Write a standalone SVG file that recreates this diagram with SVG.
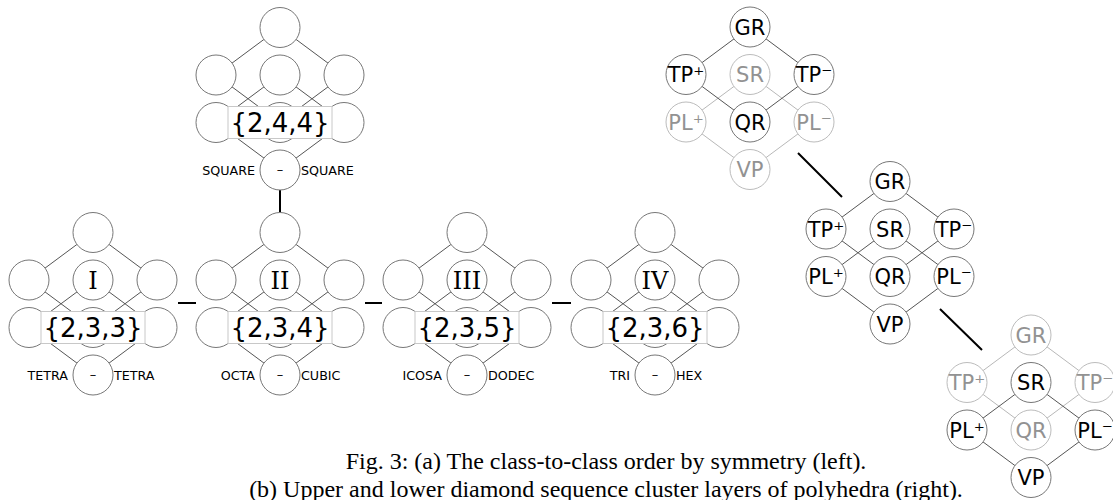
<svg xmlns="http://www.w3.org/2000/svg" width="1113" height="500" viewBox="0 0 1113 500">
<style>
.n{fill:#fff;stroke:#777;stroke-width:1}
.ng{fill:#fff;stroke:#bcbcbc;stroke-width:1}
.e{stroke:#555;stroke-width:1;fill:none}
.eg{stroke:#b8b8b8;stroke-width:1;fill:none}
.link{stroke:#000;stroke-width:2;fill:none}
.box{fill:#fff;stroke:#c8c8c8;stroke-width:1}
.sym{font-family:"DejaVu Sans",Verdana,sans-serif;font-size:26px;fill:#000;text-anchor:middle}
.rom{font-family:"DejaVu Serif",Georgia,serif;font-size:24px;fill:#000;text-anchor:middle}
.lab{font-family:"DejaVu Sans",Verdana,sans-serif;font-size:12.7px;fill:#000}
.l{text-anchor:end}
.dash{font-family:"DejaVu Sans",Verdana,sans-serif;font-size:13px;fill:#000;text-anchor:middle}
.t{font-family:"DejaVu Sans",Verdana,sans-serif;font-size:21px;fill:#000;text-anchor:middle}
.tg{font-family:"DejaVu Sans",Verdana,sans-serif;font-size:21px;fill:#929292;text-anchor:middle}
.cap{font-family:"Liberation Serif","Times New Roman",serif;font-size:24px;fill:#000;text-anchor:middle}
</style>
<defs>
  <!-- eight-position lattice: top, middle row, bottom row, base -->
  <g id="lattice">
    <path class="e" d="M0,0L-64,47.5M0,0L64,47.5M-64,47.5L0,95M0,47.5L-64,95M0,47.5L64,95M64,47.5L0,95M-64,95L0,142.5M64,95L0,142.5"/>
    <circle class="n" cx="0" cy="0" r="20"/>
    <circle class="n" cx="-64" cy="47.5" r="20"/>
    <circle class="n" cx="0" cy="47.5" r="20"/>
    <circle class="n" cx="64" cy="47.5" r="20"/>
    <circle class="n" cx="-64" cy="95" r="20"/>
    <circle class="n" cx="0" cy="95" r="20"/>
    <circle class="n" cx="64" cy="95" r="20"/>
    <circle class="n" cx="0" cy="142.5" r="20"/>
    <rect class="box" x="-52" y="79" width="104" height="32"/>
    <text class="dash" x="0" y="146.5">–</text>
  </g>
</defs>

<rect width="1113" height="500" fill="#fff"/>

<!-- connectors -->
<g id="connectors">
  <path class="link" d="M280,190V212"/>
  <path class="link" d="M178,303H196M365,303H382M552,303H571"/>
  <path class="link" d="M798,153L842,197M940,309L982,350"/>
</g>

<!-- left: class lattices -->
<g id="cluster-244" transform="translate(280,27.5)">
  <use href="#lattice"/>
  <text class="sym" y="104">{2,4,4}</text>
  <text class="lab l" x="-25" y="147">SQUARE</text>
  <text class="lab" x="21" y="147">SQUARE</text>
</g>
<g id="cluster-I" transform="translate(93,232.5)">
  <use href="#lattice"/>
  <text class="rom" y="56">I</text>
  <text class="sym" y="104">{2,3,3}</text>
  <text class="lab l" x="-25" y="147">TETRA</text>
  <text class="lab" x="21" y="147">TETRA</text>
</g>
<g id="cluster-II" transform="translate(280,232.5)">
  <use href="#lattice"/>
  <text class="rom" y="56">II</text>
  <text class="sym" y="104">{2,3,4}</text>
  <text class="lab l" x="-25" y="147">OCTA</text>
  <text class="lab" x="21" y="147">CUBIC</text>
</g>
<g id="cluster-III" transform="translate(467,232.5)">
  <use href="#lattice"/>
  <text class="rom" y="56">III</text>
  <text class="sym" y="104">{2,3,5}</text>
  <text class="lab l" x="-25" y="147">ICOSA</text>
  <text class="lab" x="21" y="147">DODEC</text>
</g>
<g id="cluster-IV" transform="translate(655,232.5)">
  <use href="#lattice"/>
  <text class="rom" y="56">IV</text>
  <text class="sym" y="104">{2,3,6}</text>
  <text class="lab l" x="-25" y="147">TRI</text>
  <text class="lab" x="21" y="147">HEX</text>
</g>

<!-- right: diamond layers -->
<g id="diamond-upper" transform="translate(750,27)">
  <g id="diamond-upper-edges">
    <path class="eg" d="M0,47.5L-64,95M0,47.5L64,95M-64,95L0,142.5M64,95L0,142.5"/>
    <path class="e" d="M0,0L-64,47.5M0,0L64,47.5M-64,47.5L0,95M64,47.5L0,95"/>
  </g>
  <g id="u-GR"><circle class="n" r="20"/><text class="t" y="7.5">GR</text></g>
  <g id="u-TPp"><circle class="n" cx="-64" cy="47.5" r="20"/><text class="t" x="-64" y="55">TP⁺</text></g>
  <g id="u-SR"><circle class="ng" cx="0" cy="47.5" r="20"/><text class="tg" x="0" y="55">SR</text></g>
  <g id="u-TPm"><circle class="n" cx="64" cy="47.5" r="20"/><text class="t" x="64" y="55">TP⁻</text></g>
  <g id="u-PLp"><circle class="ng" cx="-64" cy="95" r="20"/><text class="tg" x="-64" y="102.5">PL⁺</text></g>
  <g id="u-QR"><circle class="n" cx="0" cy="95" r="20"/><text class="t" x="0" y="102.5">QR</text></g>
  <g id="u-PLm"><circle class="ng" cx="64" cy="95" r="20"/><text class="tg" x="64" y="102.5">PL⁻</text></g>
  <g id="u-VP"><circle class="ng" cx="0" cy="142.5" r="20"/><text class="tg" x="0" y="150">VP</text></g>
</g>

<g id="diamond-full" transform="translate(890,181.5)">
  <g id="diamond-full-edges">
    <path class="e" d="M0,0L-64,47.5M0,0L64,47.5M-64,47.5L0,95M64,47.5L0,95M0,47.5L-64,95M0,47.5L64,95M-64,95L0,142.5M64,95L0,142.5"/>
  </g>
  <g id="f-GR"><circle class="n" r="20"/><text class="t" y="7.5">GR</text></g>
  <g id="f-TPp"><circle class="n" cx="-64" cy="47.5" r="20"/><text class="t" x="-64" y="55">TP⁺</text></g>
  <g id="f-SR"><circle class="n" cx="0" cy="47.5" r="20"/><text class="t" x="0" y="55">SR</text></g>
  <g id="f-TPm"><circle class="n" cx="64" cy="47.5" r="20"/><text class="t" x="64" y="55">TP⁻</text></g>
  <g id="f-PLp"><circle class="n" cx="-64" cy="95" r="20"/><text class="t" x="-64" y="102.5">PL⁺</text></g>
  <g id="f-QR"><circle class="n" cx="0" cy="95" r="20"/><text class="t" x="0" y="102.5">QR</text></g>
  <g id="f-PLm"><circle class="n" cx="64" cy="95" r="20"/><text class="t" x="64" y="102.5">PL⁻</text></g>
  <g id="f-VP"><circle class="n" cx="0" cy="142.5" r="20"/><text class="t" x="0" y="150">VP</text></g>
</g>

<g id="diamond-lower" transform="translate(1031,335)">
  <g id="diamond-lower-edges">
    <path class="eg" d="M0,0L-64,47.5M0,0L64,47.5M-64,47.5L0,95M64,47.5L0,95"/>
    <path class="e" d="M0,47.5L-64,95M0,47.5L64,95M-64,95L0,142.5M64,95L0,142.5"/>
  </g>
  <g id="l-GR"><circle class="ng" r="20"/><text class="tg" y="7.5">GR</text></g>
  <g id="l-TPp"><circle class="ng" cx="-64" cy="47.5" r="20"/><text class="tg" x="-64" y="55">TP⁺</text></g>
  <g id="l-SR"><circle class="n" cx="0" cy="47.5" r="20"/><text class="t" x="0" y="55">SR</text></g>
  <g id="l-TPm"><circle class="ng" cx="64" cy="47.5" r="20"/><text class="tg" x="64" y="55">TP⁻</text></g>
  <g id="l-PLp"><circle class="n" cx="-64" cy="95" r="20"/><text class="t" x="-64" y="102.5">PL⁺</text></g>
  <g id="l-QR"><circle class="ng" cx="0" cy="95" r="20"/><text class="tg" x="0" y="102.5">QR</text></g>
  <g id="l-PLm"><circle class="n" cx="64" cy="95" r="20"/><text class="t" x="64" y="102.5">PL⁻</text></g>
  <g id="l-VP"><circle class="n" cx="0" cy="142.5" r="20"/><text class="t" x="0" y="150">VP</text></g>
</g>

<!-- caption -->
<g id="caption">
  <text class="cap" x="606" y="469">Fig. 3: (a) The class-to-class order by symmetry (left).</text>
  <text class="cap" x="606" y="497">(b) Upper and lower diamond sequence cluster layers of polyhedra (right).</text>
</g>
</svg>
